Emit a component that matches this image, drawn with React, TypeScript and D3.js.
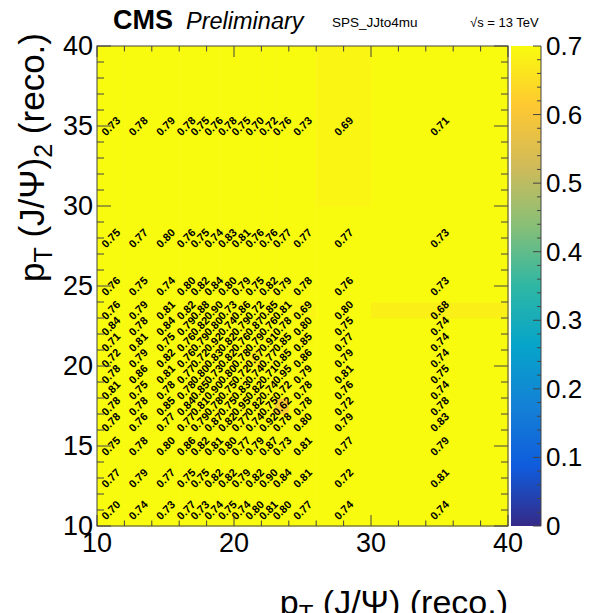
import React from "react";
import * as d3 from "d3";

const xEdges = [10, 12, 14, 16, 17, 18, 19, 20, 21, 22, 23, 24, 26, 30, 40];
const yEdges = [10, 12, 14, 16, 17, 18, 19, 20, 21, 22, 23, 24, 26, 30, 40];

// rows from bottom (y 10-12) to top (y 30-40); columns follow xEdges
const row0 = [0.70, 0.74, 0.73, 0.77, 0.73, 0.74, 0.75, 0.74, 0.80, 0.81, 0.80, 0.77, 0.74, 0.74];
const row1 = [0.77, 0.79, 0.77, 0.75, 0.75, 0.82, 0.82, 0.79, 0.82, 0.90, 0.84, 0.81, 0.72, 0.81];
const row2 = [0.75, 0.78, 0.80, 0.86, 0.82, 0.81, 0.80, 0.77, 0.79, 0.87, 0.73, 0.81, 0.77, 0.79];
const row3 = [0.78, 0.76, 0.77, 0.77, 0.79, 0.87, 0.82, 0.77, 0.74, 0.92, 0.78, 0.80, 0.79, 0.83];
const row4 = [0.78, 0.78, 0.85, 0.84, 0.81, 0.78, 0.75, 0.95, 0.82, 0.75, 0.62, 0.78, 0.72, 0.78];
const row5 = [0.81, 0.75, 0.78, 0.78, 0.85, 0.90, 0.75, 0.83, 0.82, 0.74, 0.72, 0.78, 0.76, 0.74];
const row6 = [0.78, 0.86, 0.81, 0.77, 0.80, 0.73, 0.80, 0.72, 0.74, 0.71, 0.95, 0.79, 0.81, 0.75];
const row7 = [0.72, 0.79, 0.82, 0.76, 0.72, 0.83, 0.82, 0.78, 0.67, 0.77, 0.85, 0.86, 0.79, 0.74];
const row8 = [0.71, 0.81, 0.75, 0.76, 0.79, 0.92, 0.82, 0.76, 0.79, 0.91, 0.85, 0.85, 0.77, 0.74];
const row9 = [0.84, 0.78, 0.84, 0.79, 0.82, 0.80, 0.74, 0.79, 0.87, 0.76, 0.78, 0.80, 0.75, 0.74];
const row10 = [0.76, 0.79, 0.81, 0.82, 0.88, 0.90, 0.73, 0.86, 0.72, 0.85, 0.81, 0.69, 0.80, 0.68];
const row11 = [0.76, 0.75, 0.74, 0.80, 0.82, 0.84, 0.80, 0.79, 0.75, 0.82, 0.79, 0.78, 0.76, 0.73];
const row12 = [0.75, 0.77, 0.80, 0.76, 0.75, 0.74, 0.83, 0.81, 0.76, 0.76, 0.77, 0.77, 0.77, 0.73];
const row13 = [0.73, 0.78, 0.79, 0.78, 0.75, 0.76, 0.78, 0.75, 0.70, 0.72, 0.76, 0.73, 0.69, 0.71];
const rows = [row0, row1, row2, row3, row4, row5, row6, row7, row8, row9, row10, row11, row12, row13];

const xTicks = [10, 20, 30, 40];
const yTicks = [10, 15, 20, 25, 30, 35, 40];
const zTicks = [0, 0.1, 0.2, 0.3, 0.4, 0.5, 0.6, 0.7];
const zMax = 0.7;

// ROOT kBird palette
const birdStops = [0, 0.125, 0.25, 0.375, 0.5, 0.625, 0.75, 0.875, 1];
const birdR = [0.2082, 0.0592, 0.078, 0.0232, 0.1802, 0.5301, 0.8186, 0.9956, 0.9764];
const birdG = [0.1664, 0.3599, 0.5041, 0.6419, 0.7178, 0.7492, 0.7328, 0.7862, 0.9832];
const birdB = [0.5293, 0.8684, 0.8385, 0.7914, 0.6425, 0.4662, 0.3499, 0.1968, 0.0539];

const toHex = (r: number[], g: number[], b: number[], i: number) =>
  d3.rgb(r[i] * 255, g[i] * 255, b[i] * 255).formatHex();
const birdColors = birdStops.map((_, i) => toHex(birdR, birdG, birdB, i));

const W = 604, H = 613;
const X0 = 97, X1 = 508, Y0 = 526, Y1 = 46;
const FONT = "'Liberation Sans', Arial, Helvetica, sans-serif";

export default function App() {
  const x = d3.scaleLinear().domain([10, 40]).range([X0, X1]);
  const y = d3.scaleLinear().domain([10, 40]).range([Y0, Y1]);
  const z = d3
    .scaleLinear<string>()
    .domain(birdStops.map((s) => s * zMax))
    .range(birdColors)
    .clamp(true);
  const zy = d3.scaleLinear().domain([0, zMax]).range([Y0, Y1]);

  const cells: any[] = [];
  rows.forEach((row, j) => {
    row.forEach((v, i) => {
      cells.push({ x0: xEdges[i], x1: xEdges[i + 1], y0: yEdges[j], y1: yEdges[j + 1], v });
    });
  });

  const xMinor = d3.range(10, 40.001, 2);
  const yMinor = d3.range(10, 40.001, 1);
  const zMinor = d3.range(0, 0.7001, 0.02);

  const gradId = "birdgrad";
  const tickCol = "#444";

  return (
    <svg width={W} height={H} style={{ position: "absolute", left: 0, top: 0, background: "#fff" }}>
      <defs>
        <linearGradient id={gradId} x1="0" y1="1" x2="0" y2="0">
          {birdStops.map((s, i) => (
            <stop key={i} offset={s} stopColor={birdColors[i]} />
          ))}
        </linearGradient>
      </defs>
      <rect x={0} y={0} width={W} height={H} fill="#fff" />
      {/* cells */}
      {cells.map((c, k) => (
        <rect
          key={k}
          x={x(c.x0)}
          y={y(c.y1)}
          width={x(c.x1) - x(c.x0) + 0.5}
          height={y(c.y0) - y(c.y1) + 0.5}
          fill={z(c.v)}
        />
      ))}
      {/* cell texts */}
      {cells.map((c, k) => {
        const cx = x((c.x0 + c.x1) / 2);
        const cy = y((c.y0 + c.y1) / 2);
        return (
          <text
            key={"t" + k}
            transform={`translate(${cx},${cy}) rotate(-45)`}
            textAnchor="middle"
            dominantBaseline="central"
            fontFamily={FONT}
            fontSize={11}
            fontWeight="bold"
            fill="#000"
          >
            {c.v.toFixed(2)}
          </text>
        );
      })}
      {/* frame */}
      <rect x={X0} y={Y1} width={X1 - X0} height={Y0 - Y1} fill="none" stroke={tickCol} strokeWidth={1} />
      {/* x ticks */}
      {xMinor.map((v) => {
        const major = xTicks.includes(v);
        const L = major ? 11 : 5.5;
        return (
          <g key={"xt" + v}>
            <line x1={x(v)} x2={x(v)} y1={Y0} y2={Y0 - L} stroke={tickCol} />
            <line x1={x(v)} x2={x(v)} y1={Y1} y2={Y1 + L} stroke={tickCol} />
          </g>
        );
      })}
      {yMinor.map((v) => {
        const major = yTicks.includes(v);
        const L = major ? 14 : 7;
        return (
          <g key={"yt" + v}>
            <line x1={X0} x2={X0 + L} y1={y(v)} y2={y(v)} stroke={tickCol} />
            <line x1={X1} x2={X1 - L} y1={y(v)} y2={y(v)} stroke={tickCol} />
          </g>
        );
      })}
      {xTicks.map((v) => (
        <text key={"xl" + v} x={x(v)} y={552} textAnchor="middle" fontFamily={FONT} fontSize={27} fill="#000">
          {v}
        </text>
      ))}
      {yTicks.map((v) => (
        <text key={"yl" + v} x={93} y={y(v) + 9} textAnchor="end" fontFamily={FONT} fontSize={27} fill="#000">
          {v}
        </text>
      ))}
      {/* color bar */}
      <rect x={511} y={Y1} width={30} height={Y0 - Y1} fill={`url(#${gradId})`} />
      {zMinor.map((v, i) => {
        const major = i % 5 === 0;
        return (
          <line key={"zt" + i} x1={541} x2={541 - (major ? 8 : 4)} y1={zy(v)} y2={zy(v)} stroke={tickCol} />
        );
      })}
      <line x1={541} x2={541} y1={Y1} y2={Y0} stroke={tickCol} />
      {zTicks.map((v) => (
        <text key={"zl" + v} x={546} y={zy(v) + 9} textAnchor="start" fontFamily={FONT} fontSize={26} fill="#000">
          {v === 0 ? "0" : v.toFixed(1)}
        </text>
      ))}
      {/* header */}
      <text x={113} y={29} fontFamily={FONT} fontSize={27} fontWeight="bold" fill="#000">CMS</text>
      <text x={186} y={29} fontFamily={FONT} fontSize={23.5} fontStyle="italic" fill="#000">Preliminary</text>
      <text x={332} y={27} fontFamily={FONT} fontSize={13.5} fill="#000">SPS_JJto4mu</text>
      <text x={470} y={27} fontFamily={FONT} fontSize={13} fill="#000">√s = 13 TeV</text>
      {/* axis titles */}
      <text x={508} y={614} textAnchor="end" fontFamily={FONT} fontSize={34} fill="#000">
        p<tspan dy={8} fontSize={24}>T</tspan>
        <tspan dy={-8}> (J/Ψ) (reco.)</tspan>
      </text>
      <text
        transform={`translate(44,${Y1 - 13}) rotate(-90)`}
        textAnchor="end"
        fontFamily={FONT}
        fontSize={35}
        fill="#000"
      >
        p<tspan dy={8} fontSize={25}>T</tspan>
        <tspan dy={-8}> (J/Ψ)</tspan>
        <tspan dy={8} fontSize={25}>2</tspan>
        <tspan dy={-8}> (reco.)</tspan>
      </text>
    </svg>
  );
}
